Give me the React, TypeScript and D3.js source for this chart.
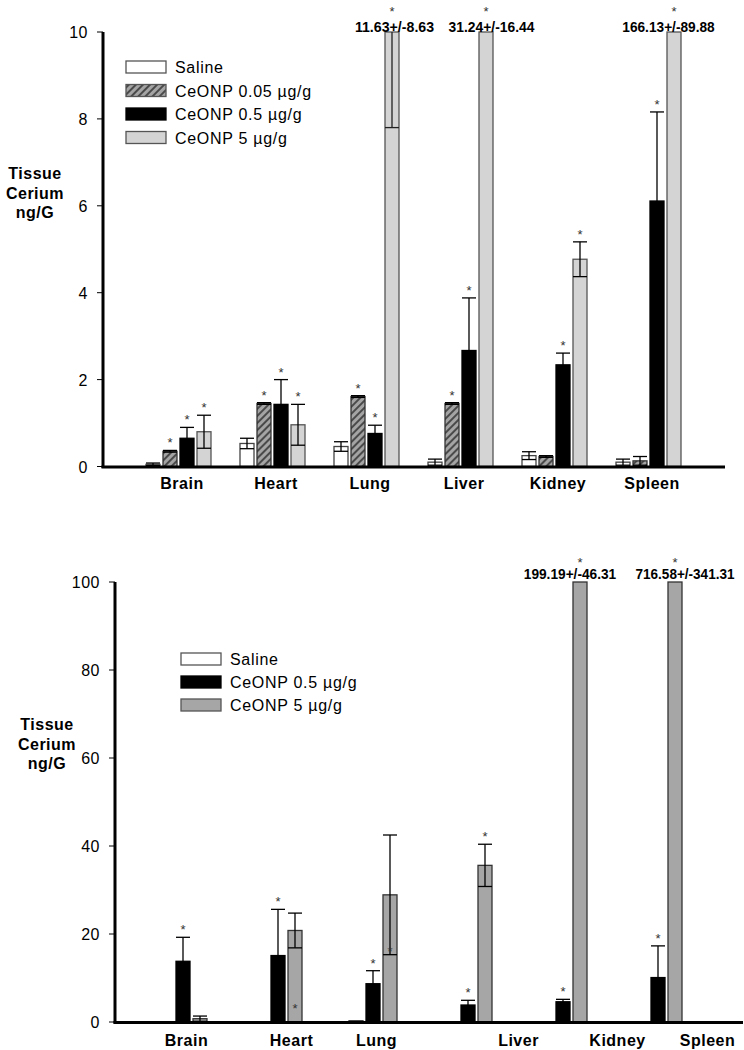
"use client";

import React, { useRef, useEffect } from 'react';
import * as d3 from 'd3';

const organs = ['Brain', 'Heart', 'Lung', 'Liver', 'Kidney', 'Spleen'];

// upper panel: tissue cerium, ng/G
const upperNames = ['Saline', 'CeONP 0.05 µg/g', 'CeONP 0.5 µg/g', 'CeONP 5 µg/g'];
const upperSaline = [0.05, 0.53, 0.46, 0.1, 0.25, 0.1];
const upperSalineErr = [0.03, 0.12, 0.11, 0.07, 0.09, 0.07];
const upperLow = [0.35, 1.45, 1.61, 1.45, 0.23, 0.13];
const upperLowErr = [0.02, 0.02, 0.02, 0.02, 0.02, 0.1];
const upperMid = [0.65, 1.43, 0.76, 2.67, 2.34, 6.11];
const upperMidErr = [0.25, 0.57, 0.19, 1.21, 0.27, 2.05];
const upperHigh = [0.8, 0.96, 11.63, 31.24, 4.77, 166.13];
const upperHighErr = [0.38, 0.47, 8.63, 16.44, 0.4, 89.88];
// lower whisker as drawn on the off-scale bars
const upperHighWhisker = [null, null, 7.8, null, null, null];
const upperStars = [
  [0, 0, 0, 0, 0, 0],
  [1, 1, 1, 1, 0, 0],
  [1, 1, 1, 1, 1, 1],
  [1, 1, 1, 1, 1, 1],
];
const upperTicks = [0, 2, 4, 6, 8, 10];
// the mean+/-sd notes above off-scale bars are not exactly centred
const upperNoteShift = [0, 0, 2.5, 5.5, 0, -5.5];

// lower panel
const lowerNames = ['Saline', 'CeONP 0.5 µg/g', 'CeONP 5 µg/g'];
const lowerSaline = [0, 0, 0.3, 0, 0, 0];
const lowerSalineErr = [0, 0, 0, 0, 0, 0];
const lowerMid = [13.8, 15.1, 8.7, 3.86, 4.6, 10.1];
const lowerMidErr = [5.45, 10.5, 2.96, 1.07, 0.55, 7.2];
const lowerHigh = [0.75, 20.8, 28.9, 35.6, 199.19, 716.58];
const lowerHighErr = [0.6, 3.95, 13.6, 4.8, 46.31, 341.31];
const lowerStars = [
  [0, 0, 0, 0, 0, 0],
  [1, 1, 1, 1, 1, 1],
  [0, 1, 1, 1, 1, 1],
];
// stars printed inside the bar instead of above the whisker
const lowerHighStarAt = [null, 3.7, 16.7, null, null, null];
const lowerTicks = [0, 20, 40, 60, 80, 100];
// the organ names under the lower panel are shifted to the right
const lowerLabelShift = [0, 10, 0, 47, 51, 46];
const lowerNoteShift = [0, 0, 0, 0, -10, 10];

const FONT = '"Liberation Sans", Arial, sans-serif';

function drawPanel(svg: any, p: any) {
  const y = d3.scaleLinear().domain([0, p.max]).range([p.y0, p.y1]);
  const x = d3.scaleBand().domain(organs).range(p.xRange);
  const n = p.series.length;
  const half = (n * p.slot) / 2;
  const xi = d3.scaleBand()
    .domain(p.series.map((s: any) => s.name))
    .range([x.bandwidth() / 2 - half, x.bandwidth() / 2 + half]);
  const bw = p.barW;

  const g = svg.append('g');

  p.series.forEach((s: any) => {
    const bx = (i: number) => (x(organs[i]) as number) + (xi(s.name) as number);
    s.values.forEach((v: number, i: number) => {
      if (!v) return;
      const clipped = v > p.max;
      const top = y(Math.min(v, p.max));
      const left = bx(i);
      const cx = left + bw / 2;

      g.append('rect')
        .attr('x', left)
        .attr('y', top)
        .attr('width', bw)
        .attr('height', y(0) - top)
        .attr('fill', s.fill)
        .attr('stroke', s.stroke)
        .attr('stroke-width', 1.3);

      // error bars
      const e = s.errs[i];
      let capTop = top;
      if (!clipped && e) {
        const hi = y(v + e);
        const lo = y(Math.max(v - e, 0));
        capTop = hi;
        g.append('line').attr('x1', cx).attr('x2', cx).attr('y1', hi).attr('y2', lo)
          .attr('stroke', '#000').attr('stroke-width', 1.3);
        [hi, lo].forEach(yy => {
          g.append('line').attr('x1', left).attr('x2', left + bw).attr('y1', yy).attr('y2', yy)
            .attr('stroke', '#000').attr('stroke-width', 1.3);
        });
      }
      if (clipped) {
        const w = s.whisker ? s.whisker[i] : null;
        if (w != null) {
          g.append('line').attr('x1', cx).attr('x2', cx).attr('y1', y(p.max)).attr('y2', y(w))
            .attr('stroke', '#222').attr('stroke-width', 1.3);
          g.append('line').attr('x1', left).attr('x2', left + bw).attr('y1', y(w)).attr('y2', y(w))
            .attr('stroke', '#222').attr('stroke-width', 1.3);
        }
        const note = `${v.toFixed(2)}+/-${e.toFixed(2)}`;
        g.append('text')
          .attr('x', cx + (p.noteShift ? p.noteShift[i] : 0))
          .attr('y', y(p.max) + p.labelDy)
          .attr('text-anchor', 'middle')
          .attr('textLength', note.length * 6.6)
          .attr('lengthAdjust', 'spacingAndGlyphs')
          .style('font-family', FONT)
          .style('font-weight', 'bold')
          .style('font-size', '15px')
          .text(note);
      }

      // significance marks
      if (s.stars[i]) {
        let sy: number;
        const at = s.starAt ? s.starAt[i] : null;
        if (at != null) sy = y(at);
        else if (clipped) sy = y(p.max) + p.labelDy - p.starGap;
        else sy = capTop - 10;
        g.append('text')
          .attr('x', cx)
          .attr('y', sy + 7)
          .attr('text-anchor', 'middle')
          .style('font-family', FONT)
          .style('font-size', '13px')
          .style('fill', '#333')
          .text('*');
      }
    });
  });

  // axes
  g.append('line').attr('x1', p.axisX).attr('x2', p.axisX)
    .attr('y1', y(p.max)).attr('y2', y(0) + 1.5)
    .attr('stroke', '#000').attr('stroke-width', 3);
  g.append('line').attr('x1', p.axisX - 1.5).attr('x2', p.xEnd)
    .attr('y1', y(0) + 0.5).attr('y2', y(0) + 0.5)
    .attr('stroke', '#000').attr('stroke-width', 3);

  p.ticks.forEach((t: number) => {
    g.append('line').attr('x1', p.axisX - 6).attr('x2', p.axisX)
      .attr('y1', y(t)).attr('y2', y(t))
      .attr('stroke', '#000').attr('stroke-width', 1);
    g.append('text')
      .attr('x', p.axisX - 15)
      .attr('y', y(t) + 6)
      .attr('text-anchor', 'end')
      .style('font-family', FONT)
      .style('font-size', '16px')
      .style('letter-spacing', '0.5px')
      .text(t);
  });

  organs.forEach((o, i) => {
    g.append('text')
      .attr('x', (x(o) as number) + x.bandwidth() / 2 + 2 + (p.labelShift ? p.labelShift[i] : 0))
      .attr('y', p.catY)
      .attr('text-anchor', 'middle')
      .style('font-family', FONT)
      .style('font-weight', 'bold')
      .style('font-size', '16px')
      .style('letter-spacing', '0.5px')
      .text(o);
  });

  // y title
  ['Tissue', 'Cerium', 'ng/G'].forEach((t, k) => {
    g.append('text')
      .attr('x', p.titleX)
      .attr('y', p.titleY + k * 19.5)
      .attr('text-anchor', 'middle')
      .style('font-family', FONT)
      .style('font-weight', 'bold')
      .style('font-size', '16px')
      .style('letter-spacing', '0.5px')
      .text(t);
  });

  // legend
  p.series.forEach((s: any, k: number) => {
    const ly = p.legendY + k * p.legendStep;
    g.append('rect')
      .attr('x', p.legendX).attr('y', ly)
      .attr('width', 40).attr('height', 12)
      .attr('fill', s.fill)
      .attr('stroke', s.name === 'CeONP 0.5 µg/g' ? '#000' : '#555')
      .attr('stroke-width', 1.3);
    g.append('text')
      .attr('x', p.legendX + 49)
      .attr('y', ly + 12)
      .style('font-family', FONT)
      .style('font-size', '16px')
      .style('letter-spacing', '0.7px')
      .text(s.name);
  });
}

export default function App() {
  const svgRef = useRef<SVGSVGElement>(null);

  useEffect(() => {
    if (!svgRef.current) return;
    const svg = d3.select(svgRef.current);
    svg.selectAll('*').remove();

    const pat = svg.append('defs').append('pattern')
      .attr('id', 'hatch')
      .attr('patternUnits', 'userSpaceOnUse')
      .attr('width', 5).attr('height', 5)
      .attr('patternTransform', 'rotate(45)');
    pat.append('rect').attr('width', 5).attr('height', 5).attr('fill', '#a4a4a4');
    pat.append('line').attr('x1', 1).attr('y1', 0).attr('x2', 1).attr('y2', 5)
      .attr('stroke', '#2b2b2b').attr('stroke-width', 1.5);

    const upperFill = ['#ffffff', 'url(#hatch)', '#000000', '#d4d4d4'];
    const upperStroke = ['#444', '#333', '#000', '#555'];
    const upperVals = [upperSaline, upperLow, upperMid, upperHigh];
    const upperErrs = [upperSalineErr, upperLowErr, upperMidErr, upperHighErr];

    drawPanel(svg, {
      max: 10, y0: 466.5, y1: 32,
      xRange: [133, 697], slot: 17, barW: 14,
      axisX: 103, xEnd: 725,
      ticks: upperTicks,
      catY: 489,
      titleX: 35, titleY: 179,
      legendX: 126, legendY: 61, legendStep: 23.5,
      labelDy: 0, starGap: 23,
      noteShift: upperNoteShift,
      series: upperNames.map((name, k) => ({
        name,
        values: upperVals[k],
        errs: upperErrs[k],
        stars: upperStars[k],
        fill: upperFill[k],
        stroke: upperStroke[k],
        whisker: k === 3 ? upperHighWhisker : null,
      })),
    });

    const lowerFill = ['#ffffff', '#000000', '#a6a6a6'];
    const lowerStroke = ['#444', '#000', '#333'];
    const lowerVals = [lowerSaline, lowerMid, lowerHigh];
    const lowerErrs = [lowerSalineErr, lowerMidErr, lowerHighErr];

    drawPanel(svg, {
      max: 100, y0: 1022, y1: 582,
      xRange: [137, 707], slot: 17, barW: 14,
      axisX: 115, xEnd: 743,
      ticks: lowerTicks,
      catY: 1046,
      labelShift: lowerLabelShift,
      titleX: 47, titleY: 730,
      legendX: 181, legendY: 653, legendStep: 23,
      labelDy: -3.5, starGap: 19,
      noteShift: lowerNoteShift,
      series: lowerNames.map((name, k) => ({
        name,
        values: lowerVals[k],
        errs: lowerErrs[k],
        stars: lowerStars[k],
        starAt: k === 2 ? lowerHighStarAt : null,
        fill: lowerFill[k],
        stroke: lowerStroke[k],
      })),
    });
  }, []);

  return (
    <div style={{ position: 'absolute', left: 0, top: 0, width: 744, height: 1050, background: '#fff' }}>
      <svg ref={svgRef} width={744} height={1050} viewBox="0 0 744 1050" style={{ display: 'block' }} />
    </div>
  );
}
